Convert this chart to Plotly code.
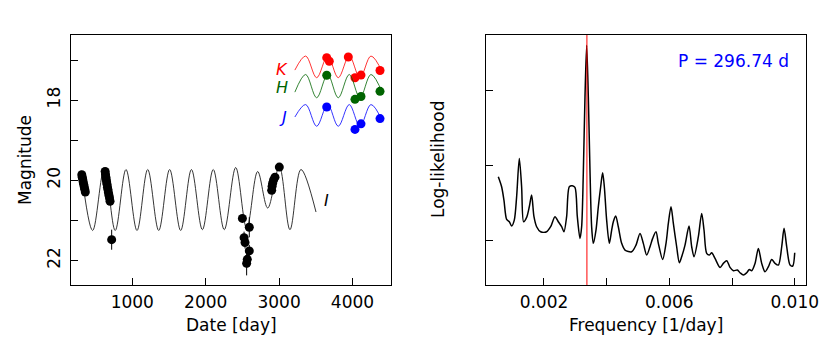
import plotly.graph_objects as go

# ---------------- Left panel: light curve ----------------
# I-band observations
i_date = [312, 318, 325, 331, 338, 345, 352, 360,
          630, 635, 640, 645, 650, 656, 662, 668, 675, 682, 690, 697, 719,
          2500, 2594, 2523, 2536, 2594, 2567, 2558,
          2899, 2905, 2912, 2925, 2944, 3003]
i_mag = [19.86, 19.92, 19.98, 20.04, 20.1, 20.16, 20.22, 20.29,
         19.78, 19.85, 19.92, 19.98, 20.04, 20.1, 20.17, 20.23, 20.3, 20.37, 20.44, 20.52, 21.48,
         20.95, 21.17, 21.43, 21.55, 21.76, 21.97, 22.07,
         20.25, 20.15, 20.07, 19.99, 19.92, 19.67]
i_err = [0.03, 0.03, 0.03, 0.03, 0.03, 0.03, 0.03, 0.03,
         0.03, 0.03, 0.03, 0.03, 0.03, 0.03, 0.03, 0.03, 0.03, 0.03, 0.03, 0.03, 0.25,
         0.1, 0.25, 0.15, 0.15, 0.15, 0.2, 0.3,
         0.04, 0.04, 0.04, 0.04, 0.04, 0.04]

# I-band model curve (digitised extrema)
im_date = [305, 460, 619, 767, 914, 1064, 1210, 1360, 1509, 1659, 1806, 1955,
           2103, 2253, 2409, 2559, 2708, 2845, 3003, 3148, 3298, 3503]
im_mag = [19.76, 21.25, 19.69, 21.25, 19.73, 21.25, 19.73, 21.25, 19.73, 21.25, 19.73, 21.23,
          19.73, 21.23, 19.68, 21.2, 19.78, 20.69, 19.66, 21.23, 19.73, 20.79]

# JHK observations (offset magnitudes)
k_date = [3649, 3684, 3943, 4034, 4116, 4375]
k_mag = [16.94, 17.03, 16.925, 17.44, 17.375, 17.26]
h_date = [3649, 4034, 4116, 4375]
h_mag = [17.38, 17.98, 17.91, 17.78]
j_date = [3649, 4034, 4116, 4375]
j_mag = [18.17, 18.73, 18.59, 18.46]

# JHK model curves (digitised extrema)
jhk_model_date = [3215, 3362, 3512, 3662, 3806, 3956, 4102, 4252, 4415]
k_model = [17.25, 16.9, 17.44, 16.9, 17.44, 16.9, 17.44, 16.9, 17.33]
h_model = [17.8, 17.36, 17.94, 17.36, 17.94, 17.36, 17.94, 17.36, 17.85]
j_model = [18.42, 18.11, 18.65, 18.11, 18.65, 18.11, 18.65, 18.11, 18.55]

# ---------------- Right panel: periodogram ----------------
freq = [0.000543, 0.000649, 0.000723, 0.000809, 0.000894, 0.000968, 0.001053, 0.001128,
        0.001213, 0.001287, 0.001351, 0.001447, 0.001532, 0.001606, 0.001681, 0.001766,
        0.001894, 0.002085, 0.002213, 0.002351, 0.002457, 0.002564, 0.002638, 0.002723,
        0.002809, 0.002904, 0.002989, 0.003064, 0.003149, 0.003202, 0.003255, 0.003309,
        0.003362, 0.003415, 0.003468, 0.003521, 0.003574, 0.003660, 0.003734, 0.003809,
        0.003872, 0.003926, 0.004000, 0.004085, 0.004160, 0.004213, 0.004287, 0.004372,
        0.004479, 0.004585, 0.004798, 0.004936, 0.005064, 0.005170, 0.005277, 0.005383,
        0.005468, 0.005574, 0.005649, 0.005787, 0.005894, 0.005968, 0.006053, 0.006128,
        0.006234, 0.006319, 0.006394, 0.006500, 0.006628, 0.006713, 0.006787, 0.006926,
        0.007032, 0.007106, 0.007191, 0.007277, 0.007351, 0.007457, 0.007617, 0.007723,
        0.007830, 0.007936, 0.008043, 0.008170, 0.008255, 0.008362, 0.008468, 0.008553,
        0.008628, 0.008734, 0.008840, 0.008947, 0.009053, 0.009160, 0.009266, 0.009372,
        0.009479, 0.009585, 0.009660, 0.009745, 0.009851, 0.009936, 0.010000]
loglik = [1.850, 1.717, 1.540, 1.283, 1.252, 1.195, 1.274, 1.584,
          2.093, 1.717, 1.252, 1.310, 1.451, 1.606, 1.319, 1.186,
          1.119, 1.119, 1.186, 1.319, 1.252, 1.186, 1.119, 1.319,
          1.717, 1.730, 1.708, 1.319, 1.031, 1.186, 1.894, 2.912,
          3.597, 2.912, 1.938, 1.186, 0.965, 1.142, 1.451, 1.717,
          1.903, 1.717, 1.274, 0.965, 1.142, 1.252, 1.327, 1.186,
          0.965, 0.876, 0.854, 0.942, 1.097, 0.965, 0.810, 0.920,
          1.031, 1.119, 0.965, 0.752, 0.965, 1.230, 1.451, 1.230,
          0.920, 0.708, 0.788, 0.942, 1.195, 0.920, 0.788, 1.053,
          1.363, 1.142, 0.832, 0.810, 0.841, 0.765, 0.646, 0.699,
          0.735, 0.646, 0.602, 0.611, 0.575, 0.544, 0.575, 0.619,
          0.602, 0.699, 0.898, 0.699, 0.588, 0.655, 0.752, 0.699,
          0.677, 0.920, 1.164, 0.920, 0.677, 0.664, 0.841]
period_days = 296.74
period_label = "P = 296.74 d"

left_xticks = [1000, 2000, 3000, 4000]
left_yticks = [17, 18, 19, 20, 21, 22]
left_yticklabels = ["", "18", "", "20", "", "22"]
right_xticks = [0.002, 0.004, 0.006, 0.008, 0.010]
right_xticklabels = ["0.002", "", "0.006", "", "0.010"]
right_yticks = [1, 2, 3]

FONT = "DejaVu Sans"
GREEN = "#006400"

fig = go.Figure()

# I model
fig.add_trace(go.Scatter(x=im_date, y=im_mag, mode="lines", line=dict(color="#1e1e1e", width=0.9, shape="spline", smoothing=1.0),
                         xaxis="x", yaxis="y", showlegend=False, hoverinfo="skip"))
# I data
fig.add_trace(go.Scatter(x=i_date, y=i_mag, mode="markers",
                         marker=dict(color="black", size=9),
                         error_y=dict(type="data", array=i_err, color="black", thickness=1, width=0),
                         xaxis="x", yaxis="y", showlegend=False))
# JHK models & data
for md, mm, od, om, col in [(jhk_model_date, k_model, k_date, k_mag, "red"),
                            (jhk_model_date, h_model, h_date, h_mag, GREEN),
                            (jhk_model_date, j_model, j_date, j_mag, "blue")]:
    fig.add_trace(go.Scatter(x=md, y=mm, mode="lines", line=dict(color=col, width=0.8, shape="spline", smoothing=1.0),
                             xaxis="x", yaxis="y", showlegend=False, hoverinfo="skip"))
    fig.add_trace(go.Scatter(x=od, y=om, mode="markers", marker=dict(color=col, size=9),
                             xaxis="x", yaxis="y", showlegend=False))

# Periodogram
fig.add_trace(go.Scatter(x=freq, y=loglik, mode="lines", line=dict(color="black", width=1.5, shape="spline", smoothing=0.8),
                         xaxis="x2", yaxis="y2", showlegend=False))

# red line at best frequency
fig.add_shape(type="line", xref="x2", yref="y2 domain", x0=1 / period_days, x1=1 / period_days, y0=0, y1=1,
              line=dict(color="red", width=1))

axis_common = dict(showline=True, linecolor="black", linewidth=1, mirror=True, ticks="inside", ticklen=7,
                   tickcolor="black", showgrid=False, zeroline=False,
                   tickfont=dict(family=FONT, size=17, color="black"))

# page body has an 8px margin -> figure is 822x348 and offsets are reduced by 8
PLOT_W = 735.0
fig.update_layout(
    width=822, height=348,
    margin=dict(l=63, r=24, t=27, b=71),
    paper_bgcolor="white", plot_bgcolor="white",
    xaxis=dict(domain=[0, 0.4354], range=[165, 4525], tickvals=left_xticks, ticklabelstandoff=2, anchor="y", **axis_common),
    yaxis=dict(domain=[0, 1], range=[22.61, 16.375], tickvals=left_yticks, ticktext=left_yticklabels,
               tickangle=-90, ticklabelstandoff=3, anchor="x", **axis_common),
    xaxis2=dict(domain=[0.5646, 1], range=[0.00015, 0.01036], tickvals=right_xticks, ticktext=right_xticklabels,
                ticklabelstandoff=2, anchor="y2", **axis_common),
    yaxis2=dict(domain=[0, 1], range=[0.412, 3.732], tickvals=right_yticks, showticklabels=False, anchor="x2", **axis_common),
)

ann = []
title_font = dict(family=FONT, size=17, color="black")
ann.append(dict(text="Date [day]", xref="x domain", yref="paper", x=0.5, y=-0.16, xanchor="center", yanchor="middle",
                showarrow=False, font=title_font))
ann.append(dict(text="Magnitude", xref="paper", yref="y domain", x=(25 - 71) / PLOT_W, y=0.5, textangle=-90,
                xanchor="center", yanchor="middle", showarrow=False, font=title_font))
ann.append(dict(text="Frequency [1/day]", xref="x2 domain", yref="paper", x=0.5, y=-0.16, xanchor="center", yanchor="middle",
                showarrow=False, font=title_font))
ann.append(dict(text="Log-likelihood", xref="paper", yref="y2 domain", x=(438 - 71) / PLOT_W, y=0.5, textangle=-90,
                xanchor="center", yanchor="middle", showarrow=False, font=title_font))
ann.append(dict(text=period_label, xref="x2", yref="y2", x=0.00806, y=3.39, xanchor="center", yanchor="middle",
                showarrow=False, font=dict(family=FONT, size=17, color="blue")))
for lab, xx, yy, col in [("K", 3036, 17.23, "red"), ("H", 3036, 17.69, GREEN), ("J", 3050, 18.44, "blue"),
                         ("I", 3649, 20.5, "black")]:
    ann.append(dict(text="<i>%s</i>" % lab, xref="x", yref="y", x=xx, y=yy, xanchor="center", yanchor="middle",
                    showarrow=False, font=dict(family=FONT, size=16, color=col)))
fig.update_layout(annotations=ann)

fig.write_html("out.html")
